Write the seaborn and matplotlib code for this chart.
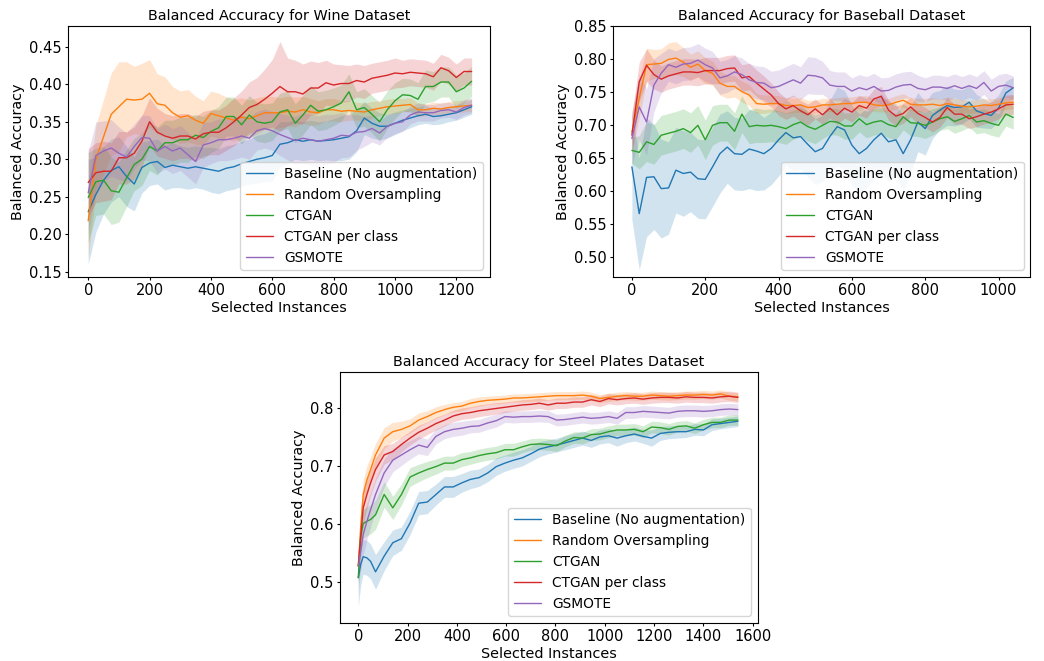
import numpy as np
import pandas as pd
import matplotlib
matplotlib.use("Agg")
import matplotlib.pyplot as plt
import seaborn as sns

sns.set_style("ticks")
plt.rcParams["font.family"] = ["DejaVu Sans"]
plt.rcParams["font.size"] = 10.5
plt.rcParams["axes.edgecolor"] = "black"
plt.rcParams["xtick.color"] = "black"
plt.rcParams["ytick.color"] = "black"
plt.rcParams["text.color"] = "black"
plt.rcParams["axes.labelcolor"] = "black"

methods = ["Baseline (No augmentation)", "Random Oversampling", "CTGAN",
           "CTGAN per class", "GSMOTE"]
colors = sns.color_palette("tab10", 5)

# ---------------- Wine dataset ----------------
wine_x = list(range(0, 1251, 25))
wine_mean = {
    "Baseline (No augmentation)": [
        0.230, 0.253, 0.272, 0.285, 0.290, 0.277, 0.267, 0.289, 0.295, 0.297,
        0.289, 0.292, 0.290, 0.288, 0.290, 0.288, 0.286, 0.284, 0.288, 0.290,
        0.294, 0.297, 0.300, 0.302, 0.305, 0.320, 0.322, 0.326, 0.324, 0.326,
        0.324, 0.325, 0.326, 0.328, 0.330, 0.338, 0.355, 0.348, 0.344, 0.344,
        0.348, 0.352, 0.355, 0.358, 0.360, 0.357, 0.358, 0.360, 0.362, 0.366,
        0.370],
    "Random Oversampling": [
        0.218, 0.300, 0.330, 0.360, 0.370, 0.380, 0.379, 0.380, 0.388, 0.374,
        0.372, 0.362, 0.356, 0.358, 0.352, 0.348, 0.361, 0.358, 0.355, 0.352,
        0.356, 0.354, 0.358, 0.362, 0.362, 0.362, 0.364, 0.363, 0.366, 0.363,
        0.362, 0.366, 0.366, 0.364, 0.365, 0.364, 0.363, 0.366, 0.368, 0.370,
        0.371, 0.372, 0.373, 0.366, 0.366, 0.368, 0.367, 0.369, 0.370, 0.371,
        0.372],
    "CTGAN": [
        0.249, 0.270, 0.272, 0.258, 0.256, 0.275, 0.293, 0.300, 0.317, 0.311,
        0.322, 0.322, 0.326, 0.326, 0.332, 0.329, 0.337, 0.342, 0.357, 0.357,
        0.346, 0.359, 0.350, 0.348, 0.350, 0.363, 0.366, 0.348, 0.359, 0.372,
        0.364, 0.366, 0.370, 0.375, 0.390, 0.366, 0.369, 0.360, 0.350, 0.366,
        0.378, 0.386, 0.385, 0.380, 0.397, 0.397, 0.403, 0.403, 0.390, 0.395,
        0.404],
    "CTGAN per class": [
        0.269, 0.282, 0.284, 0.284, 0.302, 0.302, 0.308, 0.324, 0.350, 0.336,
        0.331, 0.328, 0.331, 0.331, 0.327, 0.334, 0.336, 0.336, 0.342, 0.350,
        0.359, 0.369, 0.373, 0.380, 0.388, 0.397, 0.390, 0.390, 0.387, 0.395,
        0.395, 0.402, 0.399, 0.401, 0.401, 0.405, 0.403, 0.408, 0.410, 0.412,
        0.415, 0.414, 0.416, 0.415, 0.414, 0.410, 0.422, 0.418, 0.409, 0.417,
        0.417],
    "GSMOTE": [
        0.255, 0.305, 0.311, 0.315, 0.308, 0.303, 0.317, 0.329, 0.328, 0.311,
        0.317, 0.311, 0.315, 0.306, 0.297, 0.319, 0.322, 0.326, 0.326, 0.328,
        0.331, 0.328, 0.338, 0.341, 0.338, 0.333, 0.329, 0.325, 0.328, 0.326,
        0.324, 0.326, 0.328, 0.332, 0.331, 0.336, 0.337, 0.341, 0.335, 0.344,
        0.348, 0.350, 0.359, 0.363, 0.362, 0.362, 0.365, 0.366, 0.363, 0.369,
        0.372],
}
wine_band = {
    "Baseline (No augmentation)": [
        0.070, 0.050, 0.045, 0.042, 0.040, 0.040, 0.036, 0.034, 0.030, 0.030,
        0.030, 0.030, 0.028, 0.028, 0.028, 0.028, 0.030, 0.030, 0.030, 0.030,
        0.030, 0.030, 0.032, 0.032, 0.034, 0.030, 0.028, 0.026, 0.026, 0.026,
        0.026, 0.026, 0.028, 0.030, 0.030, 0.028, 0.022, 0.020, 0.018, 0.016,
        0.015, 0.014, 0.013, 0.012, 0.012, 0.011, 0.011, 0.010, 0.010, 0.010,
        0.010],
    "Random Oversampling": [
        0.050, 0.045, 0.050, 0.055, 0.060, 0.050, 0.045, 0.048, 0.045, 0.040,
        0.038, 0.035, 0.035, 0.035, 0.032, 0.030, 0.030, 0.030, 0.028, 0.028,
        0.026, 0.025, 0.024, 0.022, 0.022, 0.020, 0.020, 0.020, 0.018, 0.018,
        0.016, 0.015, 0.015, 0.014, 0.013, 0.012, 0.012, 0.011, 0.010, 0.010,
        0.010, 0.009, 0.009, 0.009, 0.008, 0.008, 0.008, 0.008, 0.008, 0.008,
        0.008],
    "CTGAN": [
        0.060, 0.045, 0.045, 0.045, 0.040, 0.038, 0.035, 0.035, 0.032, 0.032,
        0.030, 0.030, 0.030, 0.030, 0.028, 0.028, 0.028, 0.028, 0.026, 0.026,
        0.026, 0.026, 0.026, 0.026, 0.025, 0.025, 0.025, 0.026, 0.026, 0.026,
        0.026, 0.026, 0.025, 0.024, 0.024, 0.024, 0.025, 0.025, 0.026, 0.025,
        0.024, 0.022, 0.022, 0.022, 0.022, 0.020, 0.020, 0.020, 0.022, 0.020,
        0.020],
    "CTGAN per class": [
        0.045, 0.040, 0.040, 0.038, 0.035, 0.035, 0.035, 0.034, 0.032, 0.032,
        0.030, 0.030, 0.030, 0.030, 0.030, 0.030, 0.030, 0.030, 0.030, 0.032,
        0.032, 0.034, 0.036, 0.040, 0.045, 0.060, 0.045, 0.042, 0.040, 0.036,
        0.034, 0.030, 0.028, 0.025, 0.024, 0.022, 0.022, 0.020, 0.020, 0.020,
        0.020, 0.018, 0.018, 0.018, 0.018, 0.018, 0.018, 0.018, 0.018, 0.018,
        0.018],
    "GSMOTE": [
        0.055, 0.045, 0.040, 0.038, 0.035, 0.032, 0.030, 0.030, 0.030, 0.030,
        0.030, 0.030, 0.030, 0.030, 0.030, 0.030, 0.028, 0.028, 0.028, 0.028,
        0.028, 0.028, 0.026, 0.026, 0.026, 0.028, 0.030, 0.032, 0.034, 0.034,
        0.034, 0.034, 0.032, 0.030, 0.028, 0.024, 0.020, 0.018, 0.016, 0.015,
        0.014, 0.013, 0.012, 0.012, 0.011, 0.011, 0.010, 0.010, 0.010, 0.010,
        0.010],
}

# ---------------- Baseball dataset ----------------
baseball_x = list(range(0, 1041, 20))
baseball_mean = {
    "Baseline (No augmentation)": [
        0.636, 0.565, 0.620, 0.621, 0.603, 0.604, 0.631, 0.626, 0.628, 0.618,
        0.617, 0.636, 0.656, 0.666, 0.656, 0.655, 0.663, 0.660, 0.656, 0.664,
        0.677, 0.688, 0.680, 0.682, 0.670, 0.659, 0.664, 0.682, 0.697, 0.692,
        0.669, 0.656, 0.664, 0.677, 0.687, 0.674, 0.677, 0.656, 0.677, 0.704,
        0.694, 0.714, 0.722, 0.729, 0.726, 0.727, 0.734, 0.721, 0.717, 0.714,
        0.725, 0.748, 0.756],
    "Random Oversampling": [
        0.689, 0.740, 0.791, 0.792, 0.793, 0.799, 0.801, 0.795, 0.787, 0.792,
        0.782, 0.778, 0.763, 0.758, 0.758, 0.750, 0.745, 0.732, 0.731, 0.732,
        0.732, 0.729, 0.729, 0.730, 0.726, 0.727, 0.730, 0.730, 0.731, 0.732,
        0.732, 0.734, 0.734, 0.730, 0.729, 0.730, 0.734, 0.737, 0.731, 0.730,
        0.730, 0.731, 0.729, 0.732, 0.730, 0.728, 0.727, 0.728, 0.730, 0.729,
        0.731, 0.733, 0.734],
    "CTGAN": [
        0.661, 0.658, 0.674, 0.670, 0.684, 0.687, 0.690, 0.694, 0.688, 0.699,
        0.677, 0.699, 0.703, 0.703, 0.690, 0.716, 0.697, 0.699, 0.698, 0.699,
        0.697, 0.694, 0.700, 0.704, 0.697, 0.693, 0.699, 0.705, 0.704, 0.698,
        0.698, 0.709, 0.700, 0.704, 0.706, 0.700, 0.697, 0.712, 0.703, 0.702,
        0.699, 0.704, 0.709, 0.712, 0.705, 0.709, 0.714, 0.704, 0.706, 0.702,
        0.699, 0.716, 0.711],
    "CTGAN per class": [
        0.684, 0.765, 0.790, 0.776, 0.769, 0.774, 0.777, 0.780, 0.780, 0.779,
        0.782, 0.782, 0.782, 0.785, 0.786, 0.771, 0.773, 0.763, 0.754, 0.745,
        0.732, 0.724, 0.729, 0.721, 0.715, 0.724, 0.715, 0.725, 0.715, 0.725,
        0.719, 0.729, 0.725, 0.739, 0.743, 0.722, 0.713, 0.717, 0.727, 0.717,
        0.711, 0.704, 0.711, 0.726, 0.716, 0.716, 0.709, 0.712, 0.716, 0.719,
        0.724, 0.730, 0.731],
    "GSMOTE": [
        0.679, 0.727, 0.704, 0.760, 0.778, 0.791, 0.787, 0.792, 0.793, 0.798,
        0.791, 0.786, 0.771, 0.774, 0.780, 0.776, 0.768, 0.764, 0.763, 0.756,
        0.758, 0.763, 0.768, 0.763, 0.775, 0.774, 0.771, 0.760, 0.758, 0.758,
        0.751, 0.756, 0.753, 0.758, 0.751, 0.752, 0.757, 0.760, 0.761, 0.755,
        0.753, 0.757, 0.757, 0.755, 0.759, 0.755, 0.759, 0.755, 0.764, 0.751,
        0.758, 0.760, 0.756],
}
baseball_band = {
    "Baseline (No augmentation)": [
        0.080, 0.085, 0.090, 0.080, 0.075, 0.070, 0.065, 0.065, 0.060, 0.060,
        0.060, 0.060, 0.060, 0.055, 0.055, 0.055, 0.060, 0.060, 0.055, 0.055,
        0.055, 0.050, 0.050, 0.050, 0.050, 0.050, 0.050, 0.055, 0.060, 0.060,
        0.060, 0.060, 0.060, 0.060, 0.060, 0.060, 0.055, 0.055, 0.050, 0.045,
        0.040, 0.035, 0.030, 0.030, 0.028, 0.026, 0.025, 0.025, 0.022, 0.020,
        0.020, 0.018, 0.016],
    "Random Oversampling": [
        0.030, 0.030, 0.025, 0.022, 0.022, 0.025, 0.025, 0.022, 0.020, 0.020,
        0.020, 0.018, 0.018, 0.018, 0.016, 0.016, 0.016, 0.015, 0.014, 0.013,
        0.012, 0.012, 0.011, 0.011, 0.011, 0.010, 0.010, 0.010, 0.010, 0.010,
        0.010, 0.010, 0.010, 0.010, 0.010, 0.010, 0.010, 0.010, 0.010, 0.010,
        0.010, 0.010, 0.010, 0.010, 0.010, 0.010, 0.010, 0.010, 0.010, 0.010,
        0.010, 0.010, 0.010],
    "CTGAN": [
        0.020, 0.025, 0.030, 0.030, 0.030, 0.030, 0.030, 0.030, 0.030, 0.030,
        0.030, 0.030, 0.028, 0.028, 0.028, 0.028, 0.026, 0.026, 0.025, 0.025,
        0.024, 0.024, 0.022, 0.022, 0.022, 0.022, 0.020, 0.020, 0.020, 0.020,
        0.020, 0.020, 0.020, 0.020, 0.020, 0.020, 0.020, 0.020, 0.020, 0.020,
        0.020, 0.020, 0.018, 0.018, 0.018, 0.018, 0.018, 0.018, 0.018, 0.018,
        0.018, 0.018, 0.018],
    "CTGAN per class": [
        0.030, 0.030, 0.025, 0.022, 0.020, 0.020, 0.020, 0.020, 0.020, 0.020,
        0.020, 0.020, 0.020, 0.020, 0.020, 0.020, 0.020, 0.020, 0.020, 0.018,
        0.018, 0.016, 0.016, 0.016, 0.016, 0.015, 0.015, 0.015, 0.015, 0.015,
        0.015, 0.015, 0.015, 0.015, 0.015, 0.015, 0.015, 0.015, 0.015, 0.015,
        0.015, 0.015, 0.015, 0.015, 0.015, 0.015, 0.015, 0.015, 0.015, 0.015,
        0.015, 0.015, 0.015],
    "GSMOTE": [
        0.040, 0.050, 0.050, 0.040, 0.030, 0.025, 0.025, 0.025, 0.025, 0.025,
        0.025, 0.025, 0.025, 0.025, 0.025, 0.025, 0.025, 0.025, 0.025, 0.025,
        0.025, 0.025, 0.025, 0.025, 0.028, 0.028, 0.025, 0.022, 0.022, 0.022,
        0.020, 0.020, 0.020, 0.020, 0.020, 0.020, 0.020, 0.020, 0.020, 0.020,
        0.018, 0.018, 0.018, 0.018, 0.018, 0.018, 0.018, 0.018, 0.018, 0.018,
        0.018, 0.018, 0.018],
}

# ---------------- Steel Plates dataset ----------------
steel_x = [0, 10, 20, 35, 50, 70, 105, 140, 175, 210,
           245, 280, 315, 350, 385, 420, 455, 490, 525, 560,
           595, 630, 665, 700, 735, 770, 805, 840, 875, 910,
           945, 980, 1015, 1050, 1085, 1120, 1155, 1190, 1225, 1260,
           1295, 1330, 1365, 1400, 1435, 1470, 1505, 1540]
steel_mean = {
    "Baseline (No augmentation)": [
        0.508, 0.531, 0.544, 0.542, 0.536, 0.518, 0.545, 0.568, 0.575, 0.602,
        0.636, 0.638, 0.651, 0.664, 0.664, 0.671, 0.677, 0.680, 0.688, 0.699,
        0.705, 0.710, 0.714, 0.721, 0.729, 0.733, 0.736, 0.740, 0.744, 0.748,
        0.744, 0.750, 0.752, 0.748, 0.752, 0.755, 0.751, 0.748, 0.756, 0.758,
        0.759, 0.759, 0.763, 0.762, 0.771, 0.773, 0.775, 0.777],
    "Random Oversampling": [
        0.528, 0.596, 0.651, 0.676, 0.694, 0.719, 0.748, 0.759, 0.763, 0.769,
        0.779, 0.785, 0.792, 0.797, 0.801, 0.803, 0.808, 0.811, 0.813, 0.814,
        0.815, 0.817, 0.817, 0.818, 0.819, 0.820, 0.821, 0.821, 0.821, 0.822,
        0.820, 0.816, 0.818, 0.820, 0.821, 0.820, 0.820, 0.822, 0.821, 0.820,
        0.821, 0.822, 0.822, 0.823, 0.822, 0.824, 0.820, 0.819],
    "CTGAN": [
        0.508, 0.579, 0.601, 0.605, 0.608, 0.616, 0.651, 0.628, 0.651, 0.681,
        0.688, 0.694, 0.699, 0.705, 0.705, 0.711, 0.714, 0.718, 0.721, 0.723,
        0.728, 0.728, 0.733, 0.737, 0.738, 0.737, 0.735, 0.743, 0.749, 0.748,
        0.754, 0.755, 0.759, 0.762, 0.762, 0.763, 0.759, 0.767, 0.766, 0.763,
        0.768, 0.769, 0.765, 0.771, 0.775, 0.775, 0.779, 0.779],
    "CTGAN per class": [
        0.528, 0.579, 0.628, 0.651, 0.671, 0.694, 0.719, 0.725, 0.737, 0.748,
        0.758, 0.765, 0.773, 0.779, 0.786, 0.790, 0.792, 0.795, 0.797, 0.799,
        0.801, 0.803, 0.805, 0.806, 0.808, 0.805, 0.808, 0.808, 0.810, 0.810,
        0.814, 0.811, 0.816, 0.814, 0.816, 0.817, 0.815, 0.817, 0.818, 0.818,
        0.817, 0.819, 0.818, 0.818, 0.817, 0.819, 0.820, 0.818],
    "GSMOTE": [
        0.528, 0.554, 0.582, 0.605, 0.625, 0.651, 0.688, 0.710, 0.719, 0.728,
        0.736, 0.732, 0.751, 0.759, 0.763, 0.765, 0.768, 0.769, 0.774, 0.778,
        0.785, 0.784, 0.785, 0.785, 0.786, 0.785, 0.779, 0.780, 0.782, 0.784,
        0.782, 0.783, 0.785, 0.782, 0.792, 0.792, 0.794, 0.793, 0.792, 0.791,
        0.794, 0.795, 0.795, 0.794, 0.795, 0.797, 0.798, 0.797],
}
steel_band = {
    "Baseline (No augmentation)": [
        0.050, 0.035, 0.030, 0.030, 0.030, 0.030, 0.025, 0.022, 0.020, 0.020,
        0.020, 0.020, 0.018, 0.018, 0.018, 0.016, 0.016, 0.015, 0.015, 0.015,
        0.014, 0.014, 0.014, 0.013, 0.013, 0.012, 0.012, 0.012, 0.012, 0.012,
        0.012, 0.012, 0.012, 0.014, 0.012, 0.012, 0.012, 0.014, 0.012, 0.011,
        0.011, 0.010, 0.010, 0.010, 0.010, 0.009, 0.009, 0.009],
    "Random Oversampling": [
        0.025, 0.030, 0.025, 0.025, 0.022, 0.020, 0.018, 0.016, 0.014, 0.012,
        0.012, 0.010, 0.010, 0.009, 0.008, 0.008, 0.008, 0.008, 0.007, 0.007,
        0.007, 0.007, 0.007, 0.007, 0.007, 0.007, 0.007, 0.007, 0.007, 0.007,
        0.007, 0.007, 0.007, 0.007, 0.007, 0.007, 0.007, 0.007, 0.007, 0.007,
        0.007, 0.007, 0.007, 0.007, 0.007, 0.007, 0.007, 0.007],
    "CTGAN": [
        0.030, 0.030, 0.025, 0.025, 0.025, 0.025, 0.022, 0.020, 0.018, 0.016,
        0.015, 0.014, 0.013, 0.012, 0.012, 0.012, 0.011, 0.011, 0.011, 0.011,
        0.011, 0.011, 0.010, 0.010, 0.010, 0.010, 0.010, 0.010, 0.010, 0.010,
        0.010, 0.010, 0.010, 0.010, 0.010, 0.010, 0.010, 0.010, 0.010, 0.010,
        0.009, 0.009, 0.009, 0.009, 0.009, 0.009, 0.009, 0.009],
    "CTGAN per class": [
        0.025, 0.030, 0.028, 0.025, 0.022, 0.020, 0.016, 0.014, 0.013, 0.012,
        0.012, 0.011, 0.011, 0.010, 0.010, 0.010, 0.010, 0.010, 0.010, 0.010,
        0.009, 0.009, 0.009, 0.009, 0.009, 0.009, 0.009, 0.009, 0.009, 0.009,
        0.009, 0.009, 0.009, 0.009, 0.009, 0.009, 0.009, 0.009, 0.009, 0.009,
        0.009, 0.009, 0.009, 0.009, 0.009, 0.009, 0.009, 0.009],
    "GSMOTE": [
        0.030, 0.035, 0.035, 0.032, 0.030, 0.028, 0.024, 0.020, 0.018, 0.016,
        0.015, 0.014, 0.013, 0.012, 0.012, 0.012, 0.011, 0.011, 0.011, 0.011,
        0.010, 0.010, 0.010, 0.010, 0.010, 0.010, 0.010, 0.010, 0.010, 0.010,
        0.010, 0.010, 0.010, 0.010, 0.010, 0.010, 0.010, 0.010, 0.010, 0.010,
        0.010, 0.010, 0.010, 0.010, 0.010, 0.010, 0.010, 0.010],
}


def draw_panel(ax, x, means, bands, title, xlim, ylim, xticks, yticks, yfmt):
    frames = []
    for m in methods:
        frames.append(pd.DataFrame({"Selected Instances": x,
                                    "Balanced Accuracy": means[m],
                                    "Method": m}))
    df = pd.concat(frames, ignore_index=True)
    for m, c in zip(methods, colors):
        mu = np.asarray(means[m])
        b = np.asarray(bands[m])
        ax.fill_between(x, mu - b, mu + b, color=c, alpha=0.2, linewidth=0)
    sns.lineplot(data=df, x="Selected Instances", y="Balanced Accuracy",
                 hue="Method", hue_order=methods, palette=colors,
                 linewidth=1.0, errorbar=None, ax=ax)
    ax.set_xlim(*xlim)
    ax.set_ylim(*ylim)
    ax.set_xticks(xticks)
    ax.set_yticks(yticks)
    ax.set_yticklabels([yfmt.format(v) for v in yticks])
    ax.set_title(title, fontsize=10.4, pad=4)
    ax.set_xlabel("Selected Instances", fontsize=10.4, labelpad=2)
    ax.set_ylabel("Balanced Accuracy", fontsize=10.4, labelpad=3)
    ax.tick_params(labelsize=10.5, length=2.5, pad=2, width=0.8)
    for s in ax.spines.values():
        s.set_linewidth(0.8)
    leg = ax.legend(loc="lower right", fontsize=9.9, title=None)
    for line in leg.get_lines():
        line.set_linewidth(1.0)


fig = plt.figure(figsize=(10.44, 6.61), dpi=100)
ax_wine = fig.add_axes([0.0651, 0.581, 0.404, 0.380])
ax_base = fig.add_axes([0.587, 0.581, 0.400, 0.380])
ax_steel = fig.add_axes([0.3257, 0.0575, 0.400, 0.380])

draw_panel(ax_wine, wine_x, wine_mean, wine_band,
           "Balanced Accuracy for Wine Dataset",
           (-66, 1309), (0.143, 0.478),
           [0, 200, 400, 600, 800, 1000, 1200],
           [0.15, 0.20, 0.25, 0.30, 0.35, 0.40, 0.45], "{:.2f}")
draw_panel(ax_base, baseball_x, baseball_mean, baseball_band,
           "Balanced Accuracy for Baseball Dataset",
           (-52, 1087), (0.469, 0.85),
           [0, 200, 400, 600, 800, 1000],
           [0.50, 0.55, 0.60, 0.65, 0.70, 0.75, 0.80, 0.85], "{:.2f}")
draw_panel(ax_steel, steel_x, steel_mean, steel_band,
           "Balanced Accuracy for Steel Plates Dataset",
           (-74, 1620), (0.430, 0.862),
           [0, 200, 400, 600, 800, 1000, 1200, 1400, 1600],
           [0.5, 0.6, 0.7, 0.8], "{:.1f}")

fig.savefig("out.png", dpi=100)
